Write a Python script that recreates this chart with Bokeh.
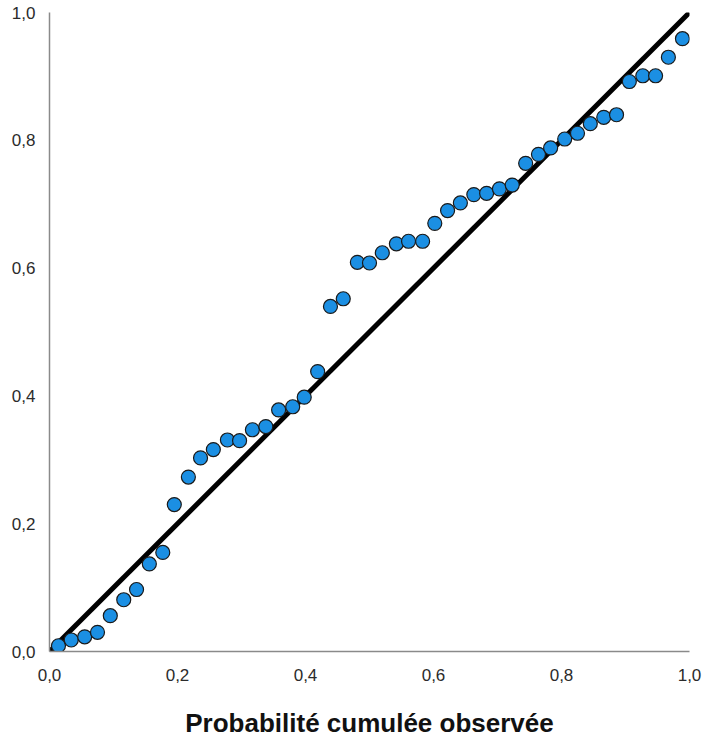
from bokeh.plotting import figure
from bokeh.models import Range1d, FixedTicker, CustomJSTickFormatter, ColumnDataSource
from bokeh.embed import file_html
from bokeh.resources import INLINE

# Observed cumulative probability (x) and expected cumulative probability (y)
obs_prob = [0.014, 0.034, 0.055, 0.075, 0.095, 0.116, 0.136, 0.156, 0.177, 0.195,
            0.217, 0.236, 0.256, 0.278, 0.297, 0.317, 0.338, 0.358, 0.380, 0.398,
            0.419, 0.439, 0.459, 0.481, 0.500, 0.520, 0.542, 0.561, 0.583, 0.602,
            0.622, 0.642, 0.663, 0.683, 0.703, 0.723, 0.744, 0.764, 0.783, 0.805,
            0.825, 0.845, 0.866, 0.886, 0.906, 0.927, 0.947, 0.967, 0.989]
exp_prob = [0.009, 0.018, 0.023, 0.030, 0.056, 0.081, 0.097, 0.137, 0.155, 0.230,
            0.273, 0.303, 0.316, 0.331, 0.330, 0.347, 0.352, 0.378, 0.383, 0.398,
            0.438, 0.540, 0.552, 0.609, 0.608, 0.624, 0.638, 0.642, 0.642, 0.670,
            0.690, 0.702, 0.715, 0.717, 0.724, 0.730, 0.764, 0.778, 0.788, 0.802,
            0.811, 0.826, 0.836, 0.840, 0.892, 0.901, 0.901, 0.930, 0.959]
ref_line_x = [0.0, 1.0]
ref_line_y = [0.0, 1.0]
tick_values = [0.0, 0.2, 0.4, 0.6, 0.8, 1.0]
x_label = "Probabilité cumulée observée"

p = figure(width=706, height=740, output_backend="svg", toolbar_location=None,
           x_range=Range1d(0, 1), y_range=Range1d(0, 1),
           min_border_left=49, min_border_right=17, min_border_top=12, min_border_bottom=89)
p.outline_line_color = None
p.grid.grid_line_color = None
p.background_fill_color = "white"
p.border_fill_color = "white"

p.line(ref_line_x, ref_line_y, line_color="black", line_width=5)
src = ColumnDataSource(dict(x=obs_prob, y=exp_prob))
p.scatter("x", "y", source=src, size=14, fill_color="#1b8fe3", line_color="#1a1a1a", line_width=1.2)

fmt = CustomJSTickFormatter(code="return tick.toFixed(1).replace('.', ',');")
for ax in (p.xaxis[0], p.yaxis[0]):
    ax.ticker = FixedTicker(ticks=tick_values)
    ax.formatter = fmt
    ax.major_tick_line_color = None
    ax.minor_tick_line_color = None
    ax.axis_line_color = "#8a8a8a"
    ax.axis_line_width = 1.5
    ax.major_label_text_font = "Liberation Sans"
    ax.major_label_text_font_size = "17px"
    ax.major_label_text_color = "#2b2b2b"

p.yaxis[0].major_label_standoff = 8
p.xaxis[0].major_label_standoff = 11
p.xaxis[0].axis_label = x_label
p.xaxis[0].axis_label_text_font = "Liberation Sans"
p.xaxis[0].axis_label_text_font_style = "bold"
p.xaxis[0].axis_label_text_font_size = "26px"
p.xaxis[0].axis_label_text_color = "#111111"
p.xaxis[0].axis_label_standoff = 24

open("out.html", "w").write(file_html(p, INLINE))
